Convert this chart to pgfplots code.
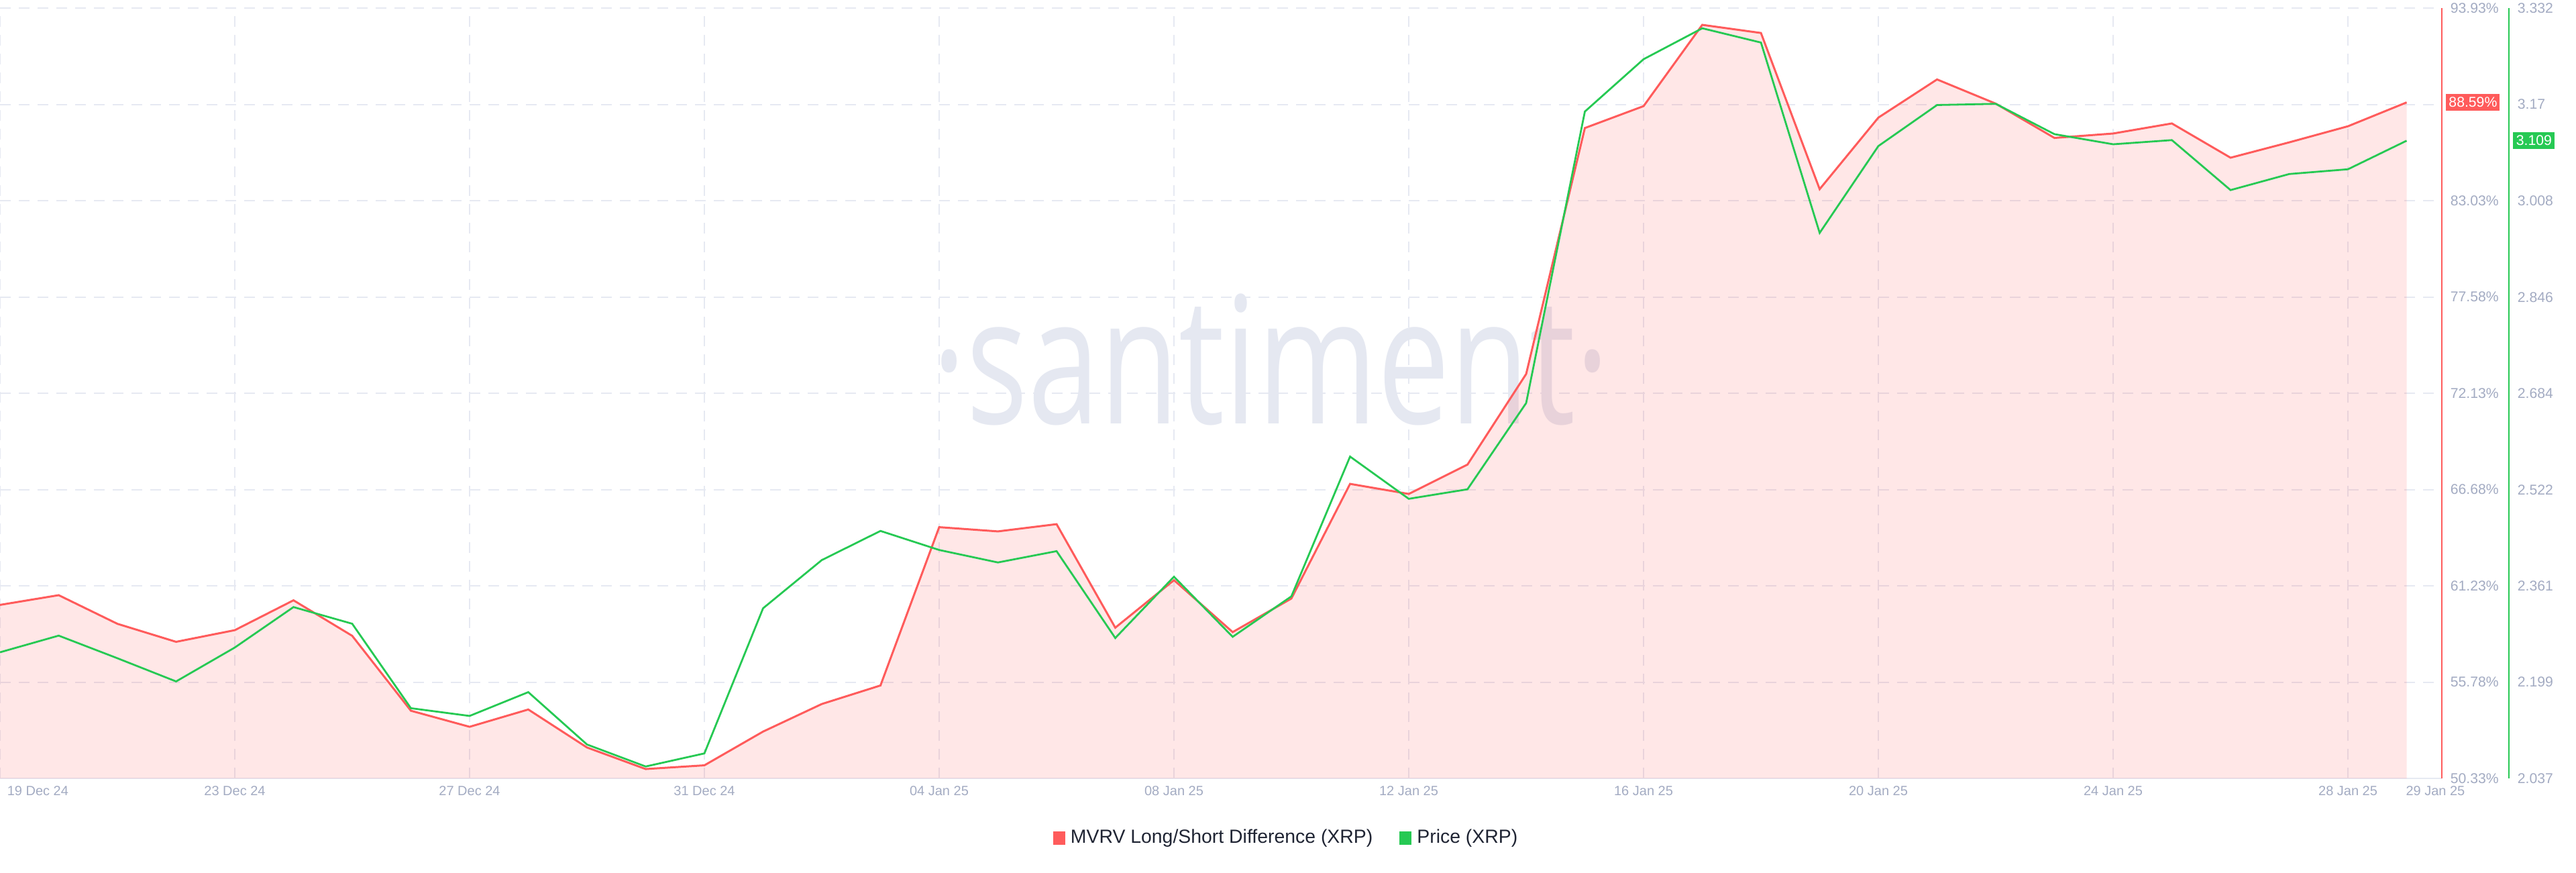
\documentclass[border=0pt]{standalone}
\usepackage{pgfplots}
\pgfplotsset{compat=1.18}
\usepackage{pgfplotstable}
\usepackage{fontspec}
\setmainfont{Liberation Sans}
\newfontfamily\wmfont{Open Sans}
\definecolor{mred}{HTML}{FF5B5B}
\definecolor{mgreen}{HTML}{26C953}
\definecolor{gridc}{HTML}{E6E9F2}
\definecolor{tickc}{HTML}{A3ABC2}
\definecolor{wmc}{HTML}{E5E8F1}
\definecolor{legc}{HTML}{1F2433}

\pgfplotstableread{
d mvrv price
0 60.15 2.249
1 60.70 2.277
2 59.08 2.239
3 58.06 2.200
4 58.72 2.257
5 60.41 2.325
6 58.40 2.297
7 54.16 2.155
8 53.25 2.142
9 54.23 2.182
10 52.08 2.094
11 50.86 2.057
12 51.07 2.079
13 52.98 2.323
14 54.54 2.404
15 55.59 2.453
16 64.55 2.421
17 64.31 2.400
18 64.72 2.419
19 58.86 2.273
20 61.55 2.376
21 58.61 2.275
22 60.51 2.343
23 67.00 2.578
24 66.43 2.507
25 68.09 2.523
26 73.22 2.668
27 87.14 3.158
28 88.38 3.246
29 92.98 3.298
30 92.52 3.274
31 83.68 2.954
32 87.73 3.100
33 89.89 3.169
34 88.52 3.171
35 86.58 3.120
36 86.83 3.103
37 87.40 3.110
38 85.46 3.026
39 86.33 3.053
40 87.24 3.061
41 88.59 3.109
}\datatable

\begin{document}
\begin{tikzpicture}
\useasboundingbox (0,-35pt) rectangle (960pt,290pt);
\begin{axis}[
  at={(0,0)}, anchor=south west,
  scale only axis, width=910pt, height=287pt,
  xmin=0, xmax=41.6, ymin=50.33, ymax=93.93,
  axis x line*=bottom, axis y line*=right,
  axis line style={-},
  x axis line style={gridc, line width=0.6pt},
  y axis line style={mred, line width=0.4pt},
  xtick={0,4,...,40},
  xticklabels={,23 Dec 24,27 Dec 24,31 Dec 24,04 Jan 25,08 Jan 25,12 Jan 25,16 Jan 25,20 Jan 25,24 Jan 25,28 Jan 25},
  ytick={50.33,55.78,61.23,66.68,72.13,77.58,83.03,88.48,93.93},
  yticklabels={50.33\%,55.78\%,61.23\%,66.68\%,72.13\%,77.58\%,83.03\%,,93.93\%},
  major tick length=0pt,
  grid=major,
  major grid style={gridc, line width=0.5pt, dash pattern=on 4pt off 3pt},
  tick label style={font=\fontsize{5}{6}\selectfont, text=tickc},
  yticklabel style={font=\fontsize{5.3}{6}\selectfont, anchor=west, inner sep=0pt, xshift=3pt},
  xticklabel style={anchor=north, inner sep=0pt, yshift=-2.7pt},
  clip mode=individual,
  legend columns=2,
  legend style={at={(0.5275,-0.0775)}, anchor=center, draw=none, fill=none,
    font=\fontsize{7.1}{8}\selectfont, text=legc,
    /tikz/every even column/.append style={column sep=8pt}},
  legend image code/.code={\fill[#1] (0pt,-2.4pt) rectangle (4.5pt,2.4pt);},
]
\addlegendimage{fill=mred, draw=none}
\addlegendimage{fill=mgreen, draw=none}
\node[anchor=base, text=wmc, inner sep=0pt] at (axis cs:21.65,70.41)
  {\wmfont\fontsize{66}{66}\selectfont\scalebox{0.73}[1]{·santiment·}};
\addplot[draw=none, fill=mred, fill opacity=0.15, forget plot] table[x=d, y=mvrv] {\datatable} \closedcycle;
\addplot[mred, line width=0.75pt, forget plot] table[x=d, y=mvrv] {\datatable};
\node[anchor=north west, inner sep=0pt, font=\fontsize{5}{6}\selectfont, text=tickc, xshift=2.5pt, yshift=-2.7pt] at (axis cs:0,50.33) {19 Dec 24};
\node[anchor=north, inner sep=0pt, font=\fontsize{5}{6}\selectfont, text=tickc, yshift=-2.7pt] at (axis cs:41.49,50.33) {29 Jan 25};
\node[fill=mred, text=white, font=\fontsize{5.3}{6}\selectfont, inner sep=0pt, minimum width=20pt, minimum height=6.25pt] at (axis cs:42.13,88.59) {88.59\%};
\legend{MVRV Long/Short Difference (XRP), Price (XRP)}
\end{axis}
\begin{axis}[
  at={(0,0)}, anchor=south west,
  scale only axis, width=935pt, height=287pt,
  xmin=0, xmax=42.743, ymin=2.037, ymax=3.332,
  hide x axis, axis y line*=right,
  axis line style={-},
  y axis line style={mgreen, line width=0.4pt},
  ytick={2.037,2.199,2.361,2.522,2.684,2.846,3.008,3.17,3.332},
  yticklabels={2.037,2.199,2.361,2.522,2.684,2.846,3.008,3.17,3.332},
  major tick length=0pt,
  tick label style={font=\fontsize{5.3}{6}\selectfont, text=tickc},
  yticklabel style={anchor=west, inner sep=0pt, xshift=3pt},
  clip mode=individual,
]
\addplot[mgreen, line width=0.7pt] table[x=d, y=price] {\datatable};
\node[fill=mgreen, text=white, font=\fontsize{5.3}{6}\selectfont, inner sep=0pt, minimum width=15.5pt, minimum height=6.25pt] at (axis cs:43.17,3.109) {3.109};
\end{axis}
\end{tikzpicture}
\end{document}
